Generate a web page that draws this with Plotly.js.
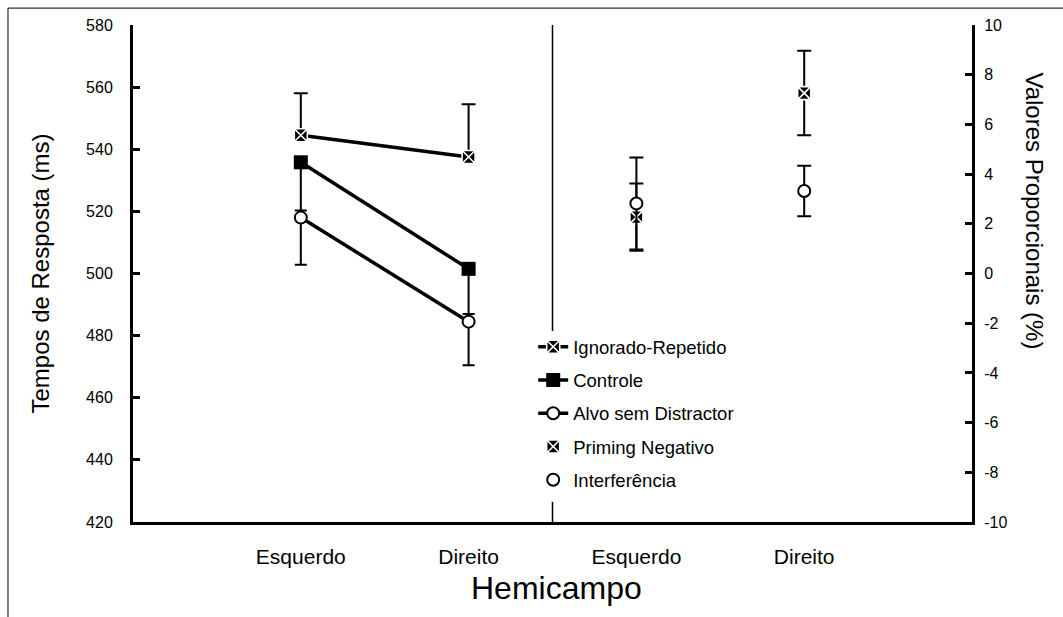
<!DOCTYPE html>
<html>
<head>
<meta charset="utf-8">
<script src="https://cdn.plot.ly/plotly-3.0.1.min.js"></script>
<style>html,body{margin:0;padding:0;background:#fff;}#chart{width:1063px;height:617px;}</style>
</head>
<body>
<div id="chart"></div>
<script>
// Category positions and labels
var catPos = [1, 2, 3, 4];
var catLabels = ['Esquerdo', 'Direito', 'Esquerdo', 'Direito'];
var leftPos = [1, 2];
var rightPos = [3, 4];

// Left axis: response times (ms)
var ignorado = [544.5, 537.5];
var ignoradoErrPlus = [13.5, 17];
var controle = [535.8, 501.5];
var controleErrMinus = [15.5, 14.5];
var alvo = [518, 484.5];
var alvoErrMinus = [15.2, 14];

// Right axis: proportional values (%)
var priming = [2.27, 7.26];
var primingErr = [1.35, 1.7];
var interferencia = [2.82, 3.32];
var interferenciaErr = [1.85, 1.02];

var yTicks = [420, 440, 460, 480, 500, 520, 540, 560, 580];
var y2Ticks = [-10, -8, -6, -4, -2, 0, 2, 4, 6, 8, 10];
var y2TickText = y2Ticks.map(function (v) { return String(v); });

var FONT = 'Liberation Sans, Arial, sans-serif';
var zeros = [0, 0];

var traces = [
  {
    x: leftPos, y: ignorado, name: 'Ignorado-Repetido', type: 'scatter', mode: 'lines+markers',
    line: {color: '#000', width: 3.5},
    marker: {symbol: 'square-x', size: 13, color: '#000', line: {color: '#fff', width: 1.6}},
    error_y: {type: 'data', symmetric: false, array: ignoradoErrPlus, arrayminus: zeros, color: '#000', thickness: 2, width: 7},
    legendgroup: 'a'
  },
  {
    x: leftPos, y: controle, name: 'Controle', type: 'scatter', mode: 'lines+markers',
    line: {color: '#000', width: 3.5},
    marker: {symbol: 'square', size: 14, color: '#000'},
    error_y: {type: 'data', symmetric: false, array: zeros, arrayminus: controleErrMinus, color: '#000', thickness: 2, width: 6},
    legendgroup: 'b'
  },
  {
    x: leftPos, y: alvo, name: 'Alvo sem Distractor', type: 'scatter', mode: 'lines+markers',
    line: {color: '#000', width: 3.5},
    marker: {symbol: 'circle', size: 12, color: '#fff', line: {color: '#000', width: 2}},
    error_y: {type: 'data', symmetric: false, array: zeros, arrayminus: alvoErrMinus, color: '#000', thickness: 2, width: 6},
    legendgroup: 'c'
  },
  {
    x: rightPos, y: priming, name: 'Priming Negativo', type: 'scatter', mode: 'markers', yaxis: 'y2',
    marker: {symbol: 'square-x', size: 13, color: '#000', line: {color: '#fff', width: 1.6}},
    error_y: {type: 'data', array: primingErr, color: '#000', thickness: 2, width: 7},
    legendgroup: 'd'
  },
  {
    x: rightPos, y: interferencia, name: 'Interferência', type: 'scatter', mode: 'markers', yaxis: 'y2',
    marker: {symbol: 'circle', size: 12, color: '#fff', line: {color: '#000', width: 2}},
    error_y: {type: 'data', array: interferenciaErr, color: '#000', thickness: 2, width: 7},
    legendgroup: 'e'
  }
];

var layout = {
  width: 1063, height: 617,
  margin: {l: 133, r: 91, t: 25, b: 95},
  paper_bgcolor: '#fff', plot_bgcolor: '#fff',
  font: {family: FONT, color: '#000'},
  showlegend: true,
  legend: {
    x: 0.477, y: 0.39, xanchor: 'left', yanchor: 'top',
    bgcolor: 'rgba(0,0,0,0)', font: {size: 18.5, family: FONT, color: '#000'},
    tracegroupgap: 6.2, traceorder: 'grouped'
  },
  xaxis: {
    range: [0, 5], tickmode: 'array', tickvals: catPos, ticktext: catLabels,
    showgrid: false, zeroline: false, showline: true, linecolor: '#000', linewidth: 3,
    ticks: '', tickfont: {size: 21, family: FONT}, ticklabelstandoff: 14
  },
  yaxis: {
    range: [420, 580], tickmode: 'array', tickvals: yTicks,
    showgrid: false, zeroline: false, showline: true, linecolor: '#000', linewidth: 3,
    ticks: 'inside', ticklen: 7, tickwidth: 3, tickcolor: '#000',
    tickfont: {size: 16, family: FONT}, ticklabelstandoff: 14,
    title: {text: 'Tempos de Resposta (ms)', font: {size: 24, family: FONT}, standoff: 30}
  },
  yaxis2: {
    range: [-10, 10], tickmode: 'array', tickvals: y2Ticks, ticktext: y2TickText, overlaying: 'y', side: 'right',
    showgrid: false, zeroline: false, showline: true, linecolor: '#000', linewidth: 3,
    ticks: 'inside', ticklen: 7, tickwidth: 3, tickcolor: '#000',
    tickfont: {size: 16, family: FONT}, ticklabelstandoff: 6
  },
  annotations: [
    {text: 'Valores Proporcionais (%)', xref: 'paper', yref: 'paper', x: 1.075, y: 0.625,
     xanchor: 'center', yanchor: 'middle', textangle: 90, showarrow: false,
     font: {size: 24, family: FONT, color: '#000'}},
    {text: 'Hemicampo', xref: 'paper', yref: 'paper', x: 0.505, y: -0.133,
     xanchor: 'center', yanchor: 'middle', showarrow: false,
     font: {size: 32, family: FONT, color: '#000'}}
  ],
  shapes: [
    {type: 'rect', xref: 'paper', yref: 'paper', x0: -0.149, x1: 1.3, y0: -0.4, y1: 1.034,
     line: {color: '#000', width: 1}, fillcolor: 'rgba(0,0,0,0)', layer: 'below'},
    {type: 'line', xref: 'x', yref: 'y', x0: 2.5, x1: 2.5, y0: 580, y1: 481.5,
     line: {color: '#000', width: 1.5}},
    {type: 'line', xref: 'x', yref: 'y', x0: 2.5, x1: 2.5, y0: 420, y1: 426.5,
     line: {color: '#000', width: 1.5}}
  ]
};

Plotly.newPlot('chart', traces, layout, {displayModeBar: false, staticPlot: true});
</script>
</body>
</html>
